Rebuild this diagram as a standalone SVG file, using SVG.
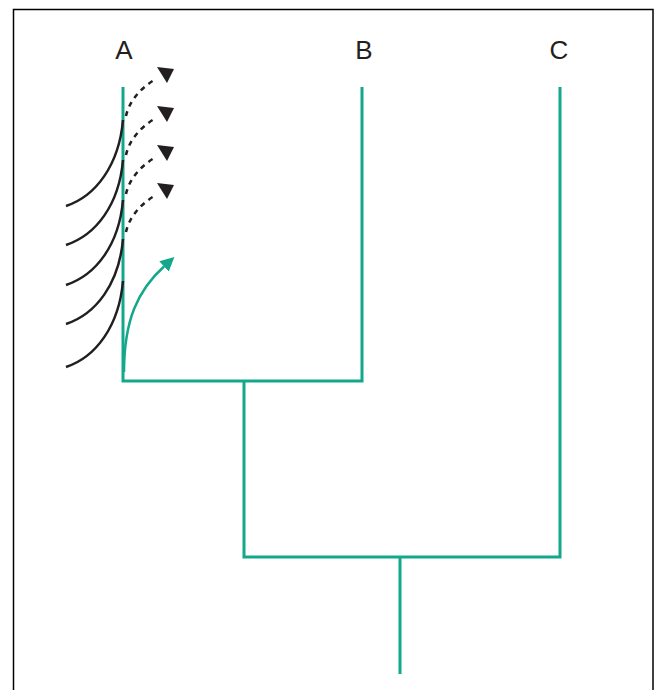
<svg xmlns="http://www.w3.org/2000/svg" width="655" height="690" viewBox="0 0 655 690">
<style>
.tree{fill:none;stroke:#13a88b;stroke-width:3}
.lbl{font-family:"Liberation Sans",Arial,sans-serif;font-size:26px;fill:#231f20;text-anchor:middle}
.curve{fill:none;stroke:#231f20;stroke-width:2.5}
.dot{fill:none;stroke:#231f20;stroke-width:2.5;stroke-dasharray:5 5}
.garr{fill:none;stroke:#13a88b;stroke-width:2.5}
</style>
<defs>
<path id="tri" d="M0,0 L17,2 L10,16 z" fill="#231f20"/>
<marker id="ag" viewBox="0 0 14 14" refX="0" refY="7" markerWidth="14" markerHeight="14" markerUnits="userSpaceOnUse" orient="auto"><path d="M0,0 L14,7 L0,14 z" fill="#13a88b"/></marker>
</defs>
<rect width="655" height="690" fill="#fff"/>
<path d="M13.5,690 V9.5 H653 V690" fill="none" stroke="#000" stroke-width="1.5"/>
<g id="connectors">
<path class="tree" d="M123,87 V381 H362 V87"/>
<path class="tree" d="M244,381 V557 H560 V87"/>
<path class="tree" d="M400,557 V674"/>
</g>
<g id="labelA"><text class="lbl" x="124" y="59">A</text></g>
<g id="labelB"><text class="lbl" x="364" y="59">B</text></g>
<g id="labelC"><text class="lbl" x="559" y="59">C</text></g>
<g id="curves">
<path class="curve" d="M66,206 C96,196 119,165 123,120"/>
<path class="curve" d="M66,245 C96,235 119,205 123,160"/>
<path class="curve" d="M66,285 C96,275 119,245 123,200"/>
<path class="curve" d="M66,324 C96,314 119,284 123,239"/>
<path class="curve" d="M66,367 C96,357 119,326 123,281"/>
</g>
<g id="dotted">
<path class="dot" d="M126,116 C129,102 140,88 156,79"/>
<path class="dot" d="M126,155 C129,141 140,127 156,118"/>
<path class="dot" d="M126,194 C129,180 140,166 156,157"/>
<path class="dot" d="M126,232 C129,218 140,204 156,195"/>
<use href="#tri" x="157" y="67"/>
<use href="#tri" x="157" y="106"/>
<use href="#tri" x="157" y="145"/>
<use href="#tri" x="157" y="183"/>
</g>
<g id="greenArrow">
<path class="garr" d="M124,372 C124,320 138,290 164,266.5" marker-end="url(#ag)"/>
</g>
</svg>
